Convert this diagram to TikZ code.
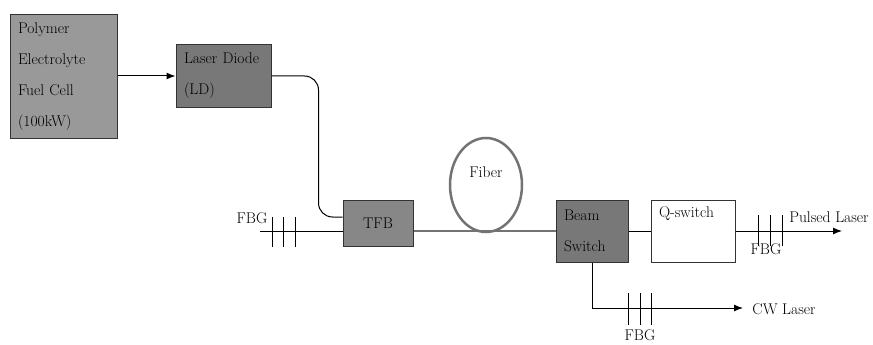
\documentclass[tikz,border=0pt]{standalone}
\usetikzlibrary{shapes.geometric,arrows.meta}
\begin{document}
\begin{tikzpicture}[>={Latex[length=9pt,width=7pt]}, x=1pt, y=-1pt, line width=1pt,
  font=\fontsize{15.5}{31}\selectfont,
  unit/.style={draw=black!80, align=left, inner xsep=8pt},
  fiberline/.style={draw=black!55, line width=2.5pt}]
\clip (0,0) rectangle (873,345);

\node[unit, fill=black!40, text width=91pt, minimum height=124pt] (pefc) at (63.5,76.5) {Polymer\\Electrolyte\\Fuel Cell\\(100kW)};
\node[unit, fill=black!53, text width=79pt, minimum height=62pt] (ld) at (223.5,76) {Laser Diode\\(LD)};
\node[unit, fill=black!47, align=center, minimum width=70pt, minimum height=46pt] (tfb) at (378,223) {TFB};
\node[fiberline, ellipse, minimum width=72pt, minimum height=94pt,
  label={[yshift=13pt]center:Fiber}] (fiber) at (486,185) {};
\node[unit, fill=black!53, text width=56pt, minimum height=62pt] (bs) at (592,231) {Beam\\Switch};
\node[unit, fill=white, minimum width=84pt, minimum height=62pt,
  label={[anchor=north west, inner xsep=8pt, inner ysep=7pt]north west:Q-switch}] (qs) at (693,231) {};

\coordinate (fbgin) at (260,231);
\coordinate (pulsed) at (842,231);
\coordinate (cw) at (743,308);

\draw[->] (pefc.east |- ld.east) -- (ld.west);
\draw[rounded corners=14pt] (ld.east) -- ++(47,0) |- ([yshift=6pt]tfb.west);
\draw (fbgin) -- (fbgin -| tfb.west);
\draw[fiberline] (tfb.east |- bs.west) -- (bs.west);
\draw (bs.east) -- (qs.west);
\draw[->] (qs.east) -- (pulsed);
\draw[->] (bs.south) |- (cw);

% fiber Bragg gratings
\foreach \x in {272,283,295} \draw (\x,217) -- (\x,247);
\foreach \x in {758,770,782} \draw (\x,215) -- (\x,246);
\foreach \x in {628,640,651} \draw (\x,293) -- (\x,325);

\node (fbga) at (252,218) {FBG};
\node (fbgb) at (766,249) {FBG};
\node (fbgc) at (640,335) {FBG};
\node (pulsedtext) at (829,217) {Pulsed Laser};
\node (cwtext) at (784,309) {CW Laser};
\end{tikzpicture}
\end{document}
